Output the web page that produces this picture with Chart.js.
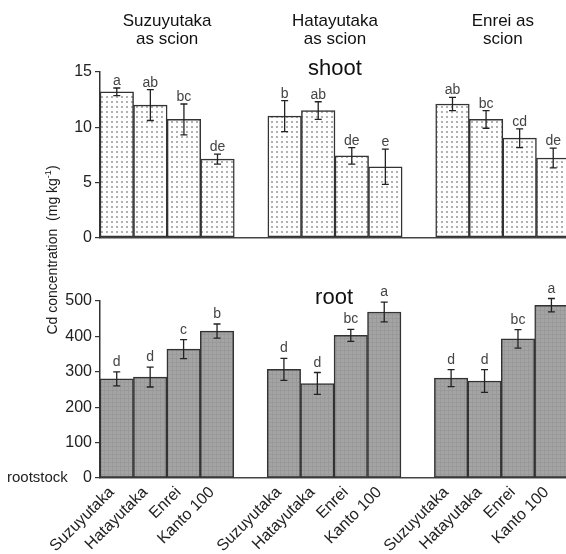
<!DOCTYPE html>
<html>
<head>
<meta charset="utf-8">
<script src="https://cdn.jsdelivr.net/npm/chart.js@4.4.1/dist/chart.umd.min.js"></script>
<style>
html, body { margin: 0; padding: 0; background: #fff; overflow: hidden; }
#wrap { position: relative; width: 566px; height: 554px; overflow: hidden; }
#shootChart { position: absolute; left: 0; top: 0; }
#rootChart { position: absolute; left: 0; top: 254px; }
#ytitle {
    position: absolute; left: -48px; top: 242px; width: 200px; height: 16px; line-height: 16px;
    text-align: center; transform: rotate(-90deg);
    white-space: nowrap; font: 14px "Liberation Sans", Arial, sans-serif; color: #1a1a1a;
}
#ytitle sup { font-size: 9px; line-height: 0; }
</style>
</head>
<body>
<div id="wrap">
    <canvas id="shootChart" width="570" height="250"></canvas>
    <canvas id="rootChart" width="570" height="300"></canvas>
    <div id="ytitle">Cd concentration &nbsp;(mg kg<sup>-1</sup>)</div>
</div>
<script>
// rootstocks on the x axis, repeated for each scion
var rootstocks = ['Suzuyutaka', 'Hatayutaka', 'Enrei', 'Kanto 100'];
var scions = [['Suzuyutaka', 'as scion'], ['Hatayutaka', 'as scion'], ['Enrei as', 'scion']];

// shoot Cd (mg/kg), 4 rootstocks per scion
var shootMean = [13.2, 12.0, 10.7, 7.1,  11.0, 11.5, 7.4, 6.4,  12.1, 10.7, 9.0, 7.2];
var shootErr  = [0.35, 1.4, 1.4, 0.45,   1.4, 0.8, 0.75, 1.6,   0.6, 0.8, 0.85, 0.9];
var shootSig  = ['a', 'ab', 'bc', 'de',  'b', 'ab', 'de', 'e',  'ab', 'bc', 'cd', 'de'];

// root Cd (mg/kg)
var rootMean = [280, 285, 364, 415,  307, 267, 403, 469,  282, 274, 393, 488];
var rootErr  = [20, 28, 27, 20,      31, 31, 17, 28,      24, 32, 26, 19];
var rootSig  = ['d', 'd', 'c', 'b',  'd', 'd', 'bc', 'a', 'd', 'd', 'bc', 'a'];

var shootTicks = [0, 5, 10, 15];
var rootTicks = [0, 100, 200, 300, 400, 500];

var FONT = '"Liberation Sans", Arial, sans-serif';

// put an empty slot between the scion groups
function withGaps(arr, fill) {
    var out = [];
    for (var g = 0; g < scions.length; g++) {
        for (var r = 0; r < rootstocks.length; r++) out.push(arr[g * rootstocks.length + r]);
        if (g < scions.length - 1) out.push(fill);
    }
    return out;
}
var labels = [];
scions.forEach(function(s, g) { labels = labels.concat(rootstocks); });
labels = withGaps(labels, '');

function dotPattern() {
    var c = document.createElement('canvas');
    c.width = 5; c.height = 5;
    var x = c.getContext('2d');
    x.fillStyle = '#ffffff'; x.fillRect(0, 0, 5, 5);
    x.fillStyle = '#b0b0b0'; x.fillRect(1, 1, 2, 2);
    return x.createPattern(c, 'repeat');
}
function greyPattern() {
    var c = document.createElement('canvas');
    c.width = 4; c.height = 4;
    var x = c.getContext('2d');
    x.fillStyle = '#a4a4a4'; x.fillRect(0, 0, 4, 4);
    x.fillStyle = '#999999'; x.fillRect(0, 0, 4, 1); x.fillRect(0, 0, 1, 4);
    return x.createPattern(c, 'repeat');
}

// error bars + significance letters + texts around the panel
var decorPlugin = {
    id: 'decor',
    afterDatasetsDraw: function(chart, args, opts) {
        var ctx = chart.ctx, y = chart.scales.y, area = chart.chartArea;
        var meta = chart.getDatasetMeta(0);
        var vals = chart.data.datasets[0].data;
        ctx.save();
        meta.data.forEach(function(bar, i) {
            var v = vals[i];
            if (v == null) return;
            var e = opts.err[i];
            var yt = y.getPixelForValue(v + e), yb = y.getPixelForValue(v - e);
            ctx.strokeStyle = '#222'; ctx.lineWidth = 1.3;
            ctx.beginPath();
            ctx.moveTo(bar.x, yt); ctx.lineTo(bar.x, yb);
            ctx.moveTo(bar.x - 3.5, yt); ctx.lineTo(bar.x + 3.5, yt);
            ctx.moveTo(bar.x - 3.5, yb); ctx.lineTo(bar.x + 3.5, yb);
            ctx.stroke();
            ctx.fillStyle = '#444'; ctx.font = '14px ' + FONT;
            ctx.textAlign = 'center'; ctx.textBaseline = 'alphabetic';
            ctx.fillText(opts.sig[i], bar.x, yt - opts.gap);
        });
        // panel name over the middle group
        var mid = (meta.data[5].x + meta.data[8].x) / 2;
        ctx.fillStyle = '#111'; ctx.font = '22px ' + FONT;
        ctx.textAlign = 'center'; ctx.textBaseline = 'alphabetic';
        ctx.fillText(opts.panel, mid, area.top + 3);
        if (opts.titles) {
            ctx.font = '17px ' + FONT; ctx.fillStyle = '#111';
            scions.forEach(function(s, g) {
                var cx = (meta.data[g * 5].x + meta.data[g * 5 + 3].x) / 2;
                ctx.fillText(s[0], cx, 26);
                ctx.fillText(s[1], cx, 44);
            });
        }
        if (opts.rootstock) {
            ctx.font = '15px ' + FONT; ctx.fillStyle = '#222';
            ctx.textAlign = 'left'; ctx.textBaseline = 'middle';
            ctx.fillText('rootstock', 7, area.bottom);
        }
        ctx.restore();
    }
};

function makeChart(id, mean, fill, ticks, xOpts, padTop, padBottom, decor) {
    return new Chart(document.getElementById(id), {
        type: 'bar',
        data: {
            labels: labels,
            datasets: [{
                data: withGaps(mean, null),
                backgroundColor: fill,
                borderColor: '#333',
                borderWidth: 1.5,
                borderSkipped: false,
                barPercentage: 1,
                categoryPercentage: 1
            }]
        },
        options: {
            responsive: false,
            animation: false,
            layout: { padding: { left: 0, right: 0, top: padTop, bottom: padBottom } },
            plugins: { legend: { display: false }, tooltip: { enabled: false }, decor: decor },
            scales: {
                x: xOpts,
                y: {
                    min: ticks[0], max: ticks[ticks.length - 1],
                    afterBuildTicks: function(s) { s.ticks = ticks.map(function(v) { return { value: v }; }); },
                    afterFit: function(s) { s.width = 100; },
                    grid: { drawOnChartArea: false, drawTicks: true, tickLength: 5, color: '#333', lineWidth: 1.2 },
                    border: { display: true, color: '#333', width: 1.5 },
                    ticks: { color: '#222', font: { size: 16, family: FONT }, padding: 3 }
                }
            }
        },
        plugins: [decorPlugin]
    });
}

makeChart('shootChart', shootMean, dotPattern(), shootTicks, {
    grid: { display: false, drawTicks: false },
    border: { display: true, color: '#444', width: 1.5 },
    ticks: { display: false },
    afterFit: function(s) { s.height = 0; }
}, 72, 2, { err: withGaps(shootErr, 0), sig: withGaps(shootSig, ''), gap: 3, panel: 'shoot', titles: true });

makeChart('rootChart', rootMean, greyPattern(), rootTicks, {
    grid: { display: false, drawTicks: false },
    border: { display: true, color: '#444', width: 1.5 },
    ticks: { color: '#222', font: { size: 16, family: FONT }, minRotation: 45, maxRotation: 45, autoSkip: false, padding: 5, labelOffset: -5 },
    afterFit: function(s) { s.height = 76; }
}, 47, 0, { err: withGaps(rootErr, 0), sig: withGaps(rootSig, ''), gap: 6, panel: 'root', rootstock: true });
</script>
</body>
</html>
